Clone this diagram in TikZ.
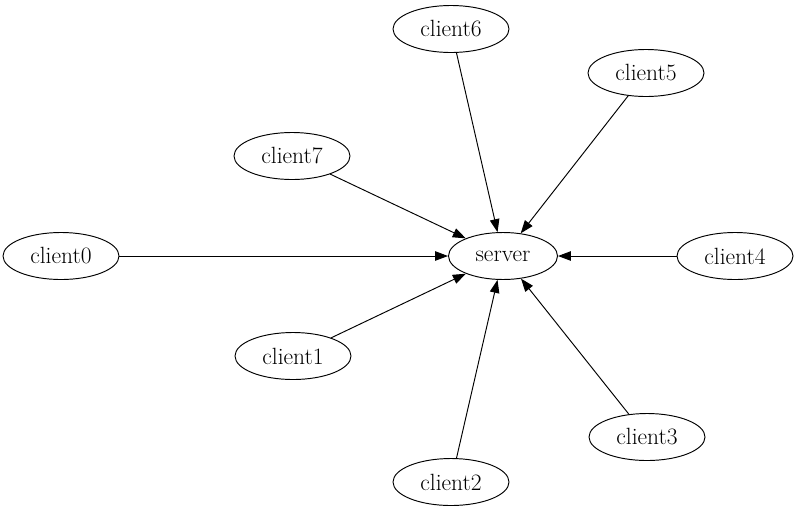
\documentclass[tikz,border=0pt]{standalone}
\usepackage{fontspec}
\usetikzlibrary{arrows.meta,shapes.geometric}
\begin{document}
\begin{tikzpicture}[x=1pt,y=-1pt,
  nd/.style={draw,ellipse,line width=0.95pt,inner sep=0pt,minimum width=116pt,minimum height=47pt,font=\fontsize{23.5}{28}\selectfont},
  srv/.style={nd,minimum width=109pt},
  edge/.style={line width=0.95pt,-{Triangle[length=13pt,width=9.5pt]}}]
\useasboundingbox (0,0) rectangle (797,512);
\node[srv] (s) at (503,256) {server};
\node[nd] (c0) at (61,256) {client0};
\node[nd] (c1) at (293,356) {client1};
\node[nd] (c2) at (451,482) {client2};
\node[nd] (c3) at (647,437) {client3};
\node[nd] (c4) at (735,256) {client4};
\node[nd] (c5) at (646,73) {client5};
\node[nd] (c6) at (451,29) {client6};
\node[nd] (c7) at (292,156) {client7};
\foreach \c in {c0,c1,c2,c3,c4,c5,c6,c7}
  \draw[edge] (\c) -- (s);
\end{tikzpicture}
\end{document}
